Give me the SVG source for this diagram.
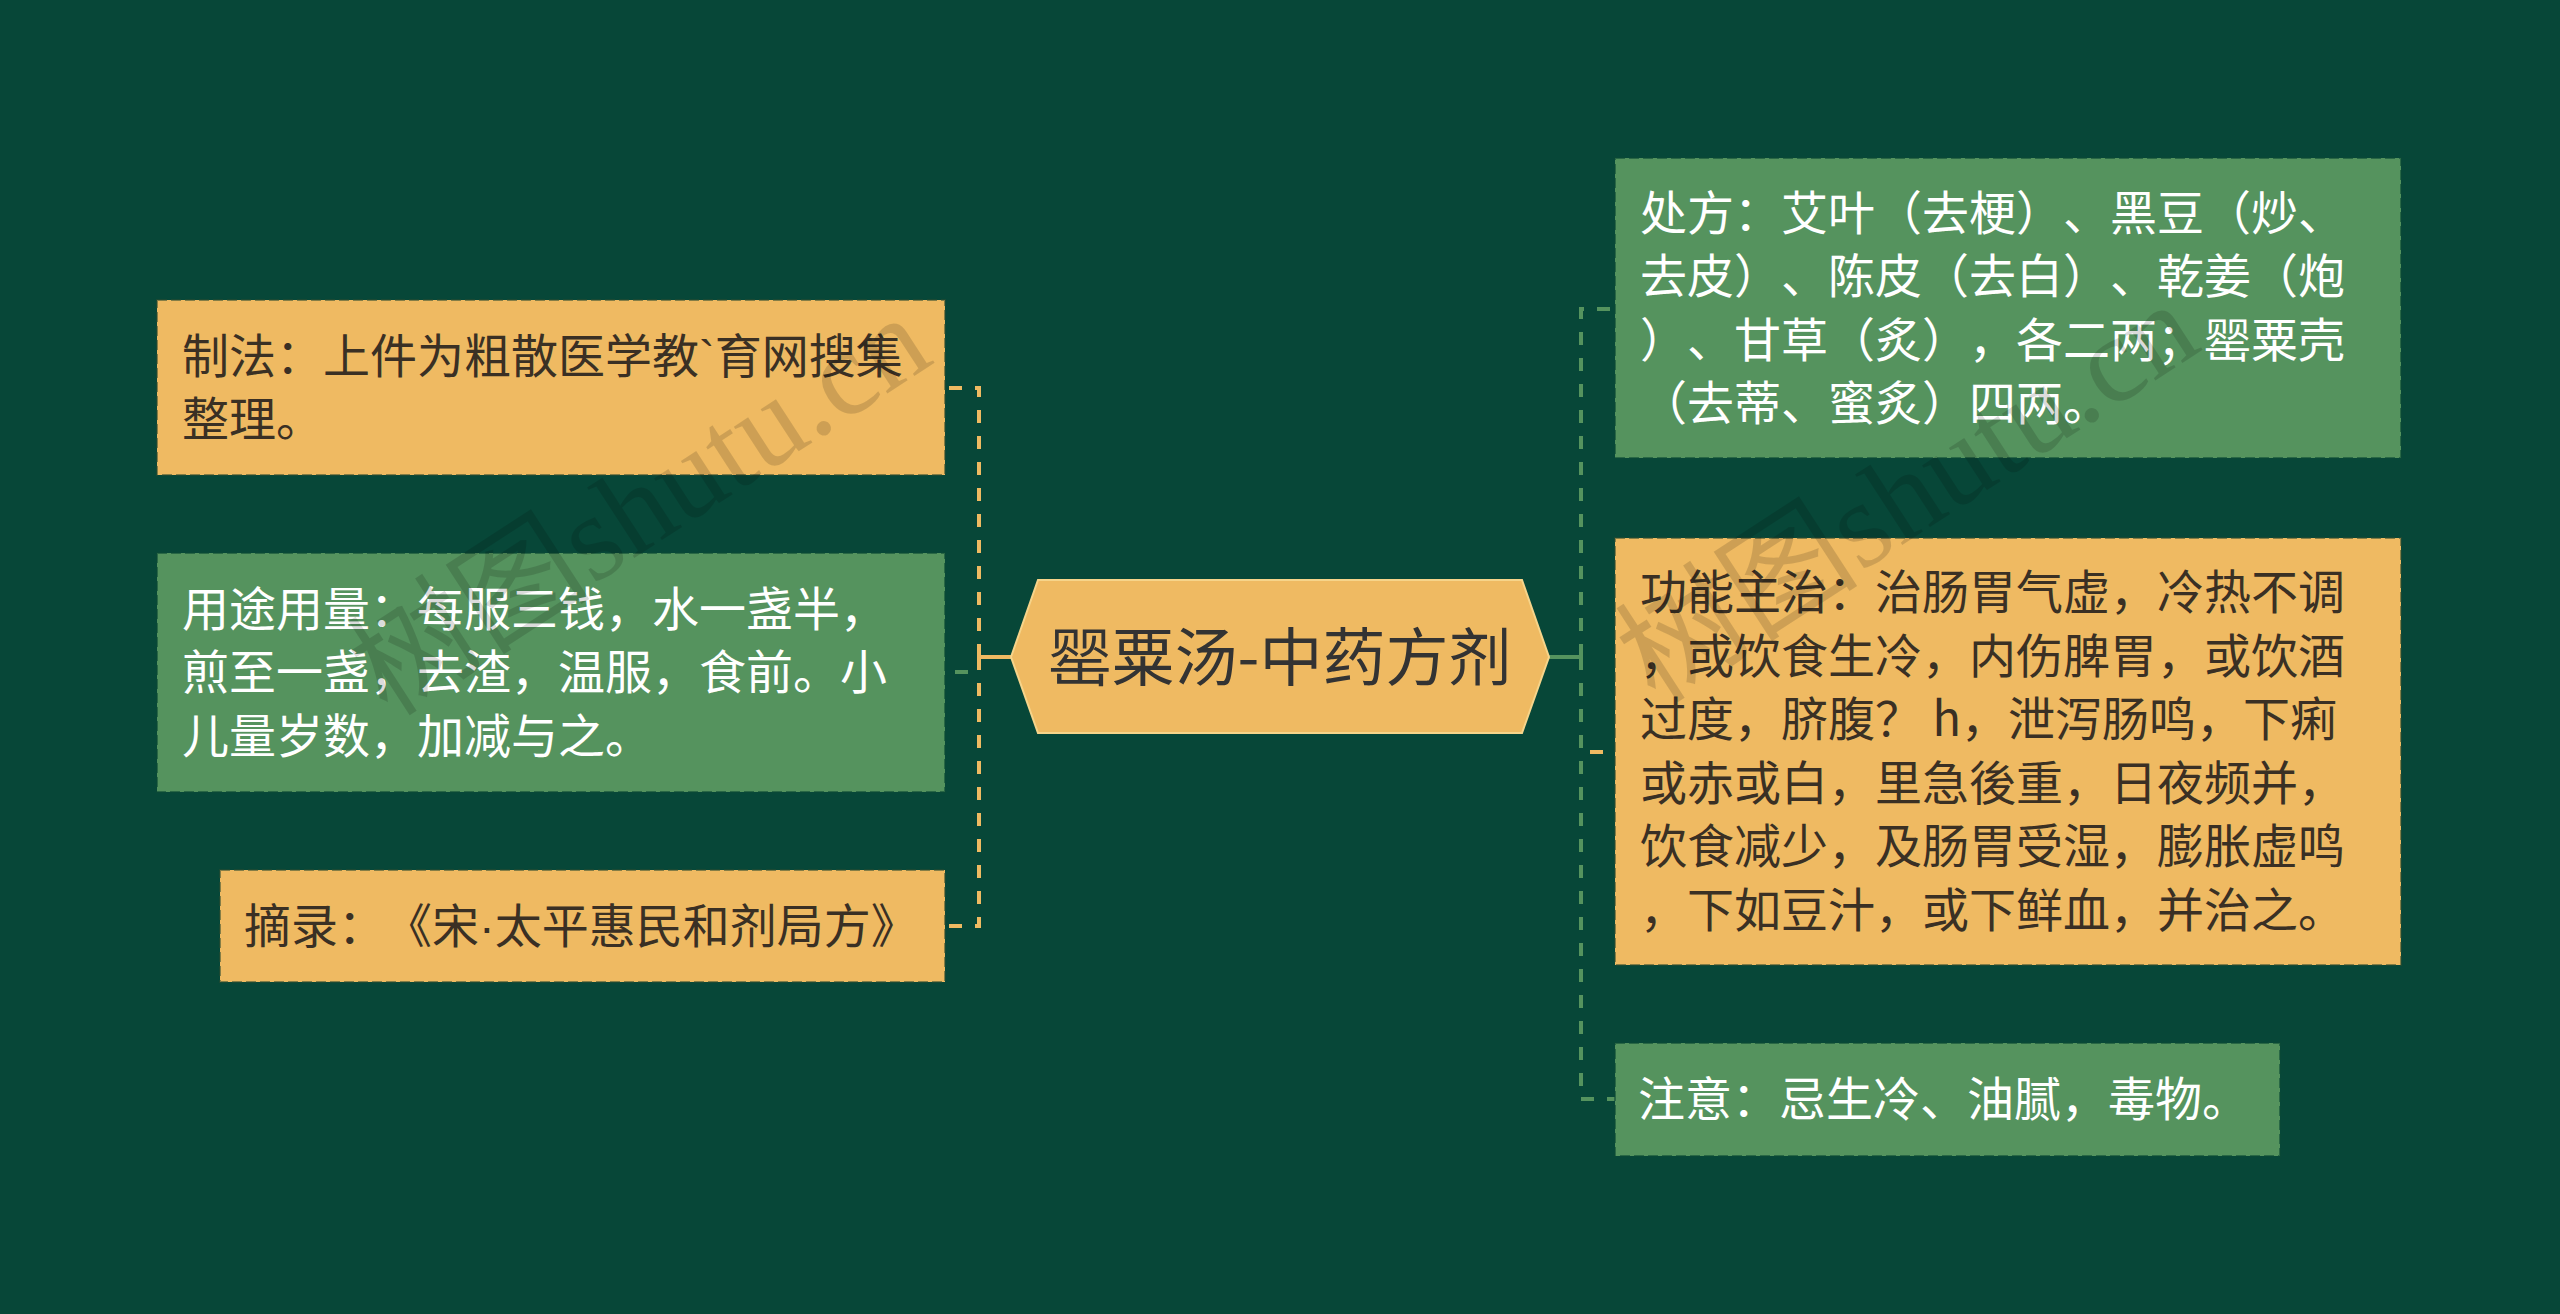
<svg xmlns="http://www.w3.org/2000/svg" width="2560" height="1314" viewBox="0 0 2560 1314">
<style>
.bg{fill:#074738}
.box-o{fill:#EFBA62;stroke:#2c4a30;stroke-width:2;stroke-dasharray:10 4;stroke-opacity:0.55}
.box-g{fill:#55935E;stroke:#0b4a36;stroke-width:2;stroke-dasharray:10 4;stroke-opacity:0.6}
.t{font-family:"Noto Sans CJK SC","Noto Sans",sans-serif;font-size:47px;text-spacing-trim:space-all}
.t-d{fill:#3a3024}
.t-w{fill:#ffffff}
.lat{font-family:"Liberation Sans",sans-serif}
.title{font-family:"Noto Sans CJK SC","Noto Sans",sans-serif;font-size:63px;fill:#333333;text-anchor:middle}
.c-solid-o{fill:none;stroke:#EFBA62;stroke-width:4}
.c-solid-g{fill:none;stroke:#55935E;stroke-width:4}
.c-o{fill:none;stroke:#EFBA62;stroke-width:4;stroke-dasharray:13 13}
.c-g{fill:none;stroke:#55935E;stroke-width:4;stroke-dasharray:13 13}
.wm{font-family:"Liberation Serif","Noto Sans CJK SC",serif;font-size:122px;fill:#000000;fill-opacity:0.14;text-anchor:middle}
</style>
<rect class="bg" x="0" y="0" width="2560" height="1314"/>

<g id="connectors">
  <path class="c-solid-o" d="M1011,657 H979"/>
  <path class="c-g" d="M979,657 V672 H945"/>
  <path class="c-o" d="M979,657 V388 H945"/>
  <path class="c-o" d="M979,657 V926 H945"/>
  <path class="c-solid-g" d="M1549,657 H1581"/>
  <path class="c-o" d="M1581,657 V752 H1615"/>
  <path class="c-g" d="M1581,657 V309 H1615"/>
  <path class="c-g" d="M1581,657 V1099 H1615"/>
</g>

<g id="node-center">
  <polygon points="1011,657 1038,580 1522,580 1549,657 1522,733 1038,733" fill="#EFBA62" stroke="#f6d48a" stroke-width="2"/>
  <text class="title" x="1280" y="680">罂粟汤-中药方剂</text>
</g>

<g id="node-zhifa">
  <rect class="box-o" x="157" y="300" width="788" height="175"/>
  <text class="t t-d" x="182" y="373">制法：上件为粗散医学教<tspan class="lat">`</tspan>育网搜集</text>
  <text class="t t-d" x="182" y="436">整理。</text>
</g>

<g id="node-yongtu">
  <rect class="box-g" x="157" y="553" width="788" height="239"/>
  <text class="t t-w" x="182" y="626">用途用量：每服三钱，水一盏半，</text>
  <text class="t t-w" x="182" y="689">煎至一盏，去渣，温服，食前。小</text>
  <text class="t t-w" x="182" y="753">儿量岁数，加减与之。</text>
</g>

<g id="node-zhailu">
  <rect class="box-o" x="220" y="870" width="725" height="112"/>
  <text class="t t-d" x="244" y="943">摘录：《宋<tspan class="lat">·</tspan>太平惠民和剂局方》</text>
</g>

<g id="node-chufang">
  <rect class="box-g" x="1615" y="158" width="786" height="300"/>
  <text class="t t-w" x="1640" y="230">处方：艾叶（去梗）、黑豆（炒、</text>
  <text class="t t-w" x="1640" y="293">去皮）、陈皮（去白）、乾姜（炮</text>
  <text class="t t-w" x="1640" y="357">）、甘草（炙），各二两；罂粟壳</text>
  <text class="t t-w" x="1640" y="420">（去蒂、蜜炙）四两。</text>
</g>

<g id="node-gongneng">
  <rect class="box-o" x="1615" y="538" width="786" height="427"/>
  <text class="t t-d" x="1640" y="609">功能主治：治肠胃气虚，冷热不调</text>
  <text class="t t-d" x="1640" y="673">，或饮食生冷，内伤脾胃，或饮酒</text>
  <text class="t t-d" x="1640" y="736">过度，脐腹？ h，泄泻肠鸣，下痢</text>
  <text class="t t-d" x="1640" y="800">或赤或白，里急後重，日夜频并，</text>
  <text class="t t-d" x="1640" y="863">饮食减少，及肠胃受湿，膨胀虚鸣</text>
  <text class="t t-d" x="1640" y="927">，下如豆汁，或下鲜血，并治之。</text>
</g>

<g id="node-zhuyi">
  <rect class="box-g" x="1615" y="1043" width="665" height="113"/>
  <text class="t t-w" x="1638" y="1116">注意：忌生冷、油腻，毒物。</text>
</g>

<g id="watermarks">
  <text class="wm" transform="translate(662,540) rotate(-33)">树图shutu.cn</text>
  <text class="wm" transform="translate(1930,527) rotate(-33)">树图shutu.cn</text>
</g>
</svg>
